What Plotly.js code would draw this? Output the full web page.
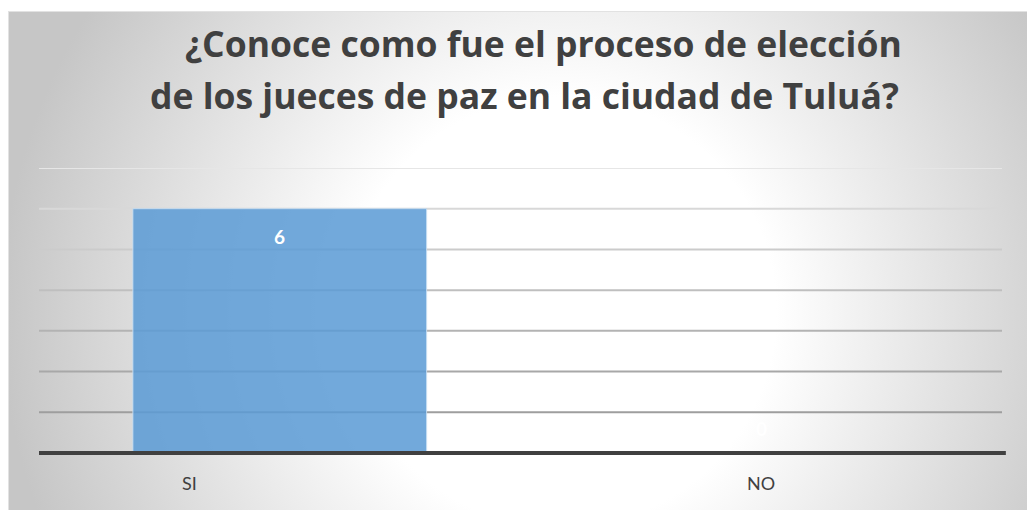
<!DOCTYPE html>
<html>
<head>
<meta charset="utf-8">
<script src="https://cdn.plot.ly/plotly-3.0.1.min.js"></script>
<style>
  html, body { margin:0; padding:0; background:#ffffff; }
  #bg {
    position:absolute; left:8px; top:11px; width:1019px; height:499px;
    box-sizing:border-box; border-left:1px solid #e2e2e2; border-top:1px solid #e2e2e2;
    background: radial-gradient(circle at 552px 300px, #ffffff 0px, #ffffff 215px, #c6c6c6 560px);
  }
  #chart { position:absolute; left:0; top:0; width:1027px; height:510px; }
</style>
</head>
<body>
<div id="bg"></div>
<div id="chart"></div>
<script>
const categories = ['SI', 'NO'];
const values = [6, 0];
const titleLines = ['\u00a0\u00a0\u00a0\u00a0\u00a0¿Conoce como fue el proceso de elección', 'de los jueces de paz en la ciudad de Tuluá?'];
const yMax = 7;

const labelXShift = [-90, 0];
const titleXShift = [0, 4];
const titleYShift = [125, 73];
const gridGrays = ['#9e9e9e', '#a8a8a8', '#b3b3b3', '#bfbfbf', '#cbcbcb', '#d8d8d8', '#e6e6e6'];

const trace = {
  type: 'bar',
  x: categories,
  y: values,
  marker: { color: 'rgba(91,155,213,0.86)', line: { color: 'rgba(200,222,242,0.9)', width: 1 } },
  hoverinfo: 'none'
};

const shapes = [];
for (let v = 1; v <= yMax; v++) {
  shapes.push({ type:'line', xref:'paper', yref:'y', x0:0, x1:1, y0:v, y1:v,
    line:{ color: gridGrays[v-1], width: 2 }, layer:'below' });
}
shapes.push({ type:'line', xref:'paper', yref:'paper', x0:0, x1:1.004, y0:0, y1:0,
  line:{ color:'#404040', width:4 }, layer:'above' });

const annotations = [];
titleLines.forEach((t, i) => {
  annotations.push({ text: t, xref:'paper', yref:'paper', x:0.5, y:1, xanchor:'center', yanchor:'middle',
    xshift: titleXShift[i], yshift: titleYShift[i], showarrow:false,
    font:{ family:'"Open Sans", Lato, sans-serif', size:35.5, color:'#404040', weight:700 } });
});
categories.forEach((c, i) => {
  annotations.push({ text: c, xref:'x', yref:'y', x:c, y:0, xanchor:'center', yanchor:'middle',
    yshift:-30, xshift: labelXShift[i], showarrow:false,
    font:{ family:'Lato, "Open Sans", sans-serif', size:18, color:'#404040' } });
  const v = values[i];
  annotations.push({ text: String(v), xref:'x', yref:'y', x:c, y:v, xanchor:'center', yanchor:'middle',
    yshift: v > 0 ? -28 : 25, showarrow:false,
    font:{ family:'Lato, "Open Sans", sans-serif', size:19, color:'#ffffff', weight:700 } });
});

const layout = {
  width:1027, height:510,
  margin:{ l:39, r:25, t:168, b:57, pad:0 },
  paper_bgcolor:'rgba(0,0,0,0)', plot_bgcolor:'rgba(0,0,0,0)',
  bargap:0.39,
  showlegend:false,
  xaxis:{ type:'category', showticklabels:false, showgrid:false, zeroline:false, showline:false, ticks:'' },
  yaxis:{ range:[0, yMax], showticklabels:false, showgrid:false, zeroline:false, showline:false, ticks:'', dtick:1 },
  shapes: shapes,
  annotations: annotations
};

Plotly.newPlot('chart', [trace], layout, { displayModeBar:false, staticPlot:true });
</script>
</body>
</html>
